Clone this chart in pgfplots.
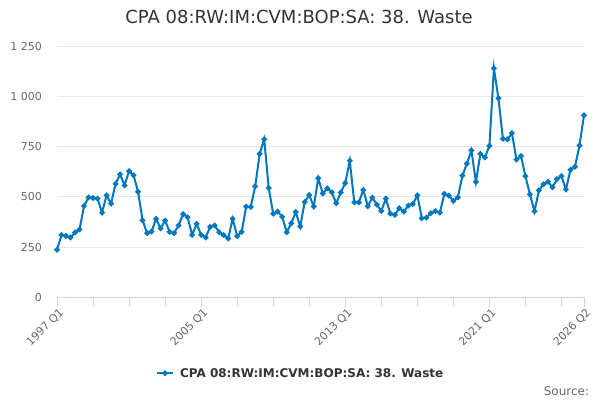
\documentclass[border=0pt]{standalone}
\usepackage{pgfplots}
\pgfplotsset{compat=1.18}
\usepackage{pgfplotstable}
\usepackage{fontspec}
\setmainfont{DejaVu Sans}
\definecolor{series}{RGB}{0,119,190}
\definecolor{txt}{HTML}{333333}
\definecolor{lbl}{HTML}{666666}
\definecolor{gridc}{HTML}{E6E6E6}
\definecolor{axl}{HTML}{CCD6EB}
\pgfplotstableread{
i v
0 237
1 310
2 305
3 298
4 323
5 338
6 455
7 498
8 495
9 492
10 422
11 508
12 467
13 565
14 613
15 558
16 629
17 608
18 526
19 384
20 320
21 328
22 391
23 343
24 382
25 326
26 320
27 358
28 415
29 399
30 311
31 366
32 311
33 298
34 351
35 358
36 324
37 310
38 293
39 391
40 305
41 326
42 452
43 450
44 553
45 715
46 788
47 545
48 416
49 427
50 401
51 324
52 369
53 425
54 353
55 475
56 510
57 452
58 593
59 517
60 543
61 523
62 469
63 522
64 570
65 681
66 473
67 473
68 535
69 454
70 497
71 462
72 430
73 492
74 417
75 411
76 444
77 427
78 457
79 465
80 508
81 394
82 397
83 419
84 430
85 422
86 515
87 507
88 480
89 498
90 606
91 666
92 732
93 575
94 715
95 697
96 755
97 1141
98 992
99 790
100 787
101 818
102 687
103 704
104 604
105 513
106 429
107 533
108 563
109 576
110 548
111 589
112 604
113 538
114 636
115 651
116 757
117 907
}\waste
\begin{document}
\begin{tikzpicture}
\path[use as bounding box] (0,0) rectangle (600bp,400bp);
\begin{axis}[
  at={(57bp,102.7bp)}, anchor=south west,
  scale only axis, width=527bp, height=250.8bp,
  xmin=0, xmax=117, ymin=0, ymax=1250,
  clip=false,
  axis x line*=bottom, axis y line*=left,
  y axis line style={draw=none},
  x axis line style={axl, line width=1bp},
  /pgf/number format/assume math mode=true,
  ytick={0,250,500,750,1000,1250},
  yticklabels={0,250,500,750,1 000,1 250},
  ymajorgrids, grid style={gridc, line width=1bp},
  ytick style={draw=none},
  xtick={0,32,64,96,117},
  xticklabels={1997 Q1,2005 Q1,2013 Q1,2021 Q1,2026 Q2},
  minor xtick={8,16,24,40,48,56,72,80,88,104,112},
  xtick style={axl, line width=1bp},
  minor tick length=10bp,
  tick align=outside,
  major tick length=10bp,
  yticklabel style={font=\fontsize{11bp}{13bp}\selectfont, text=lbl, anchor=east, inner sep=0pt, xshift=-5bp},
  xticklabel style={font=\fontsize{11bp}{13bp}\selectfont, text=lbl, rotate=45, anchor=north east, inner sep=0pt, xshift=1bp, yshift=-1bp},
  legend style={at={(0.4605,-0.303)}, anchor=center, draw=none, fill=none,
    font=\bfseries\fontsize{12bp}{14bp}\selectfont, text=txt, inner sep=0pt,
    nodes={inner sep=0pt, text depth=0pt}},
  legend image code/.code={\draw[mark repeat=2,mark phase=2] plot coordinates {(0bp,0bp)(8bp,0bp)(16bp,0bp)}; \path (22bp,0bp);},
]
\addplot[series, line width=2bp, mark=*, mark size=1.7bp, mark options={solid}] table[x=i,y=v] {\waste};
\addlegendentry{CPA 08:RW:IM:CVM:BOP:SA: 38. Waste}
\end{axis}
\node[anchor=base, text=txt, font=\fontsize{18bp}{22bp}\selectfont, inner sep=0pt] at (299bp,376bp) {CPA 08:RW:IM:CVM:BOP:SA: 38. Waste};
\node[anchor=base east, text=lbl, font=\fontsize{12bp}{14bp}\selectfont, inner sep=0pt] at (589.3bp,5bp) {Source:};
\end{tikzpicture}
\end{document}
